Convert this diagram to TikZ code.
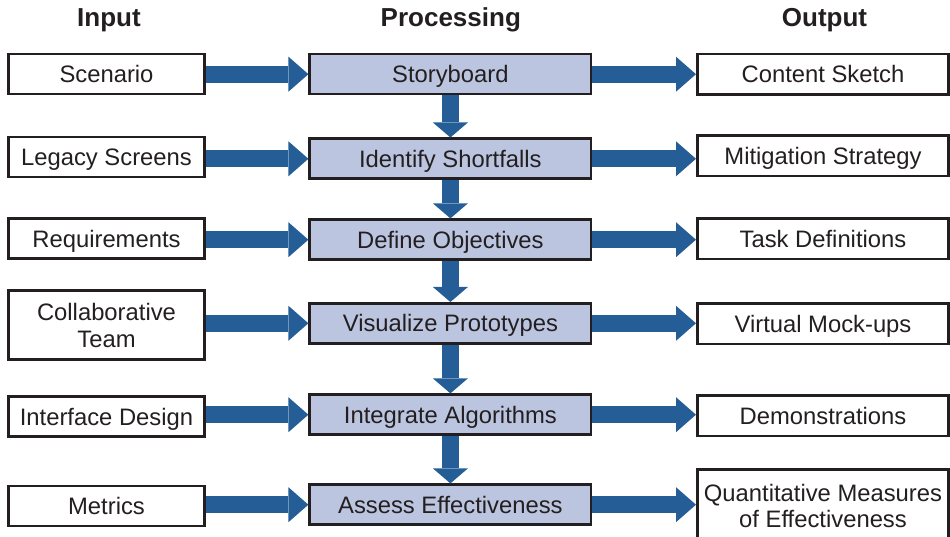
\documentclass[tikz,border=0pt]{standalone}
\usepackage{fontspec}
\setmainfont{Liberation Sans}
\usetikzlibrary{arrows.meta}

\definecolor{arrowblue}{HTML}{255E96}
\definecolor{stagefill}{HTML}{BCC5E0}
\definecolor{edgedark}{HTML}{231F20}
\definecolor{inkdark}{HTML}{231F20}

\tikzset{
  box/.style={draw=edgedark, line width=2.6pt, rectangle, inner sep=0pt,
    outer sep=1.3pt, text=inkdark, font=\fontsize{23.8}{26.7}\selectfont},
  oneline/.style={text height=17pt, text depth=0pt},
  inbox/.style={box, minimum width=195.8pt, minimum height=40pt},
  stagebox/.style={box, fill=stagefill, minimum width=281.4pt, minimum height=40pt},
  outbox/.style={box, minimum width=251.4pt, minimum height=40.6pt},
  heading/.style={anchor=base, text=inkdark, font=\fontsize{26}{30}\selectfont\bfseries},
  harrow/.style={line width=17pt, arrowblue,
    -{Triangle[length=20pt,width=35pt,line width=0pt]}},
  varrow/.style={line width=17pt, arrowblue,
    -{Triangle[length=15pt,width=35pt,line width=0pt]}}
}

\begin{document}
\begin{tikzpicture}[x=1pt,y=-1pt]
\useasboundingbox (0,0) rectangle (950,537);

% column headings
\node[heading] (hin)  at (109,26.7) {Input};
\node[heading] (hpro) at (450.8,26.7) {Processing};
\node[heading] (hout) at (824.5,26.7) {Output};

% input column
\node[inbox,oneline] (in1) at (106.5,74.2) {Scenario};
\node[inbox,oneline] (in2) at (106.5,157) {Legacy Screens};
\node[inbox,oneline] (in3) at (106.5,238.7) {Requirements};
\node[inbox,minimum height=69.1pt,align=center] (in4) at (106.5,325.2) {Collaborative\\Team};
\node[inbox,oneline] (in5) at (106.5,416.7) {Interface Design};
\node[inbox,oneline] (in6) at (106.5,505.8) {Metrics};

% processing column
\node[stagebox,oneline] (st1) at (450.4,74.2) {Storyboard};
\node[stagebox,oneline] (st2) at (450.4,158.8) {Identify Shortfalls};
\node[stagebox,oneline] (st3) at (450.4,239.7) {Define Objectives};
\node[stagebox,oneline] (st4) at (450.4,323.3) {Visualize Prototypes};
\node[stagebox,oneline] (st5) at (450.4,414.7) {Integrate Algorithms};
\node[stagebox,oneline] (st6) at (450.4,504.7) {Assess Effectiveness};

% output column
\node[outbox,oneline] (out1) at (823,74.3) {Content Sketch};
\node[outbox,oneline] (out2) at (823,155.7) {Mitigation Strategy};
\node[outbox,oneline] (out3) at (823,238.7) {Task Definitions};
\node[outbox,oneline] (out4) at (823,323.8) {Virtual Mock-ups};
\node[outbox,oneline] (out5) at (823,415.7) {Demonstrations};
\node[outbox,minimum height=72.8pt,align=center] (out6) at (823,506) {Quantitative Measures\\of Effectiveness};

% inputs feed the stages
\foreach \i in {1,...,6}
  \draw[harrow] (in\i.east |- st\i.center) -- (st\i.west);

% stages produce outputs
\foreach \i in {1,...,6}
  \draw[harrow] (st\i.east) -- (out\i.west |- st\i.center);

% stage sequence
\foreach \i/\j in {1/2,2/3,3/4,4/5,5/6}
  \draw[varrow] (st\i.south) -- (st\j.north);
\end{tikzpicture}
\end{document}
